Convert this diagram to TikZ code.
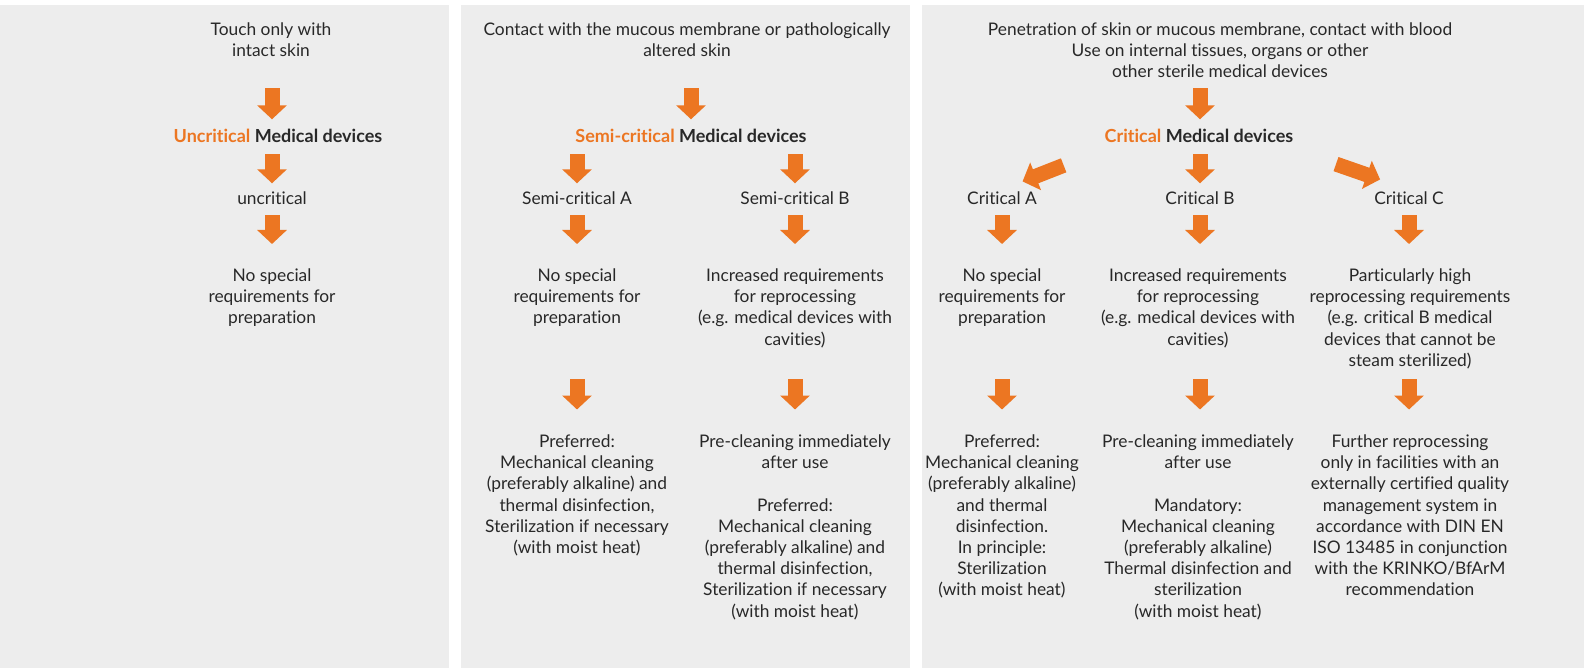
\documentclass[tikz,border=0pt]{standalone}
\usepackage{fontspec}
\setmainfont{Lato}[Ligatures=NoCommon]
\usetikzlibrary{arrows.meta}
\definecolor{orng}{RGB}{236,118,34}
\definecolor{panel}{RGB}{237,237,237}
\definecolor{ink}{RGB}{40,40,40}
\tikzset{
  txt/.style={anchor=north, align=center, inner sep=0pt, text=ink,
    font=\fontsize{17.35}{21.2}\selectfont,
    execute at begin node=\strut, execute at end node=\strut},
  ttl/.style={txt, font=\fontsize{18}{21.2}\selectfont\bfseries},
  blk/.style={draw=orng, line width=15pt, -{Triangle[length=14pt,width=29pt]}},
}
\begin{document}
\begin{tikzpicture}[x=1pt, y=-1pt]
			%%%%% PANELS %%%%%
			\useasboundingbox (0,0) rectangle (1584,668);
			\fill[white] (0,0) rectangle (1584,668);
			\fill[panel] (0,5) rectangle (449,668);
			\fill[panel] (461,5) rectangle (910,668);
			\fill[panel] (922,5) rectangle (1584,668);
			
			%%%%% UNCRITICAL %%%%%
			\node[txt] (skin) at (271,22.5) {Touch only with\\intact skin};
			\node[ttl] (unc) at (278,127.5) {\textcolor{orng}{Uncritical} Medical devices};
			\node[txt] (unclvl) at (272,189.2) {uncritical};
			\node[txt] (uncreq) at (272,268.5) {No special\\requirements for\\preparation};
			
			\draw[blk, shorten <=25.1pt, shorten >=8.2pt] (skin.south -| unclvl.north) -- (unc.north -| unclvl.north);
			\draw[blk, shorten <=5.3pt, shorten >=5.9pt] (unc.south -| unclvl.north) -- (unclvl.north);
			\draw[blk, shorten <=4.6pt, shorten >=24.5pt] (unclvl.south) -- (uncreq.north);
			
			%%%%% SEMI-CRITICAL %%%%%
			\node[txt] (mucous) at (687,22.5) {Contact with the mucous membrane or pathologically\\altered skin};
			\node[ttl] (semi) at (691,127.7) {\textcolor{orng}{Semi-critical} Medical devices};
			\node[txt] (semiA) at (577,189.5) {Semi-critical A};
			\node[txt] (semiB) at (795,189.5) {Semi-critical B};
			\node[txt] (semiAreq) at (577,268.5) {No special\\requirements for\\preparation};
			\node[txt] (semiBreq) at (795,268.5) {Increased requirements\\for reprocessing\\(e.g. medical devices with\\cavities)};
			\node[txt] (semiAproc) at (577,434.5) {Preferred:\\Mechanical cleaning\\(preferably alkaline) and\\thermal disinfection,\\Sterilization if necessary\\(with moist heat)};
			\node[txt] (semiBproc) at (795,434.5) {Pre-cleaning immediately\\after use\\[21.2pt]Preferred:\\Mechanical cleaning\\(preferably alkaline) and\\thermal disinfection,\\Sterilization if necessary\\(with moist heat)};
			
			\draw[blk, shorten <=25.1pt, shorten >=8.4pt] (mucous.south -| semi.north) -- (semi.north);
			\draw[blk, shorten <=5.1pt, shorten >=6.2pt] (semi.south -| semiA.north) -- (semiA.north);
			\draw[blk, shorten <=5.1pt, shorten >=6.2pt] (semi.south -| semiB.north) -- (semiB.north);
			\draw[blk, shorten <=4.3pt, shorten >=24.5pt] (semiA.south) -- (semiAreq.north);
			\draw[blk, shorten <=4.3pt, shorten >=24.5pt] (semiB.south) -- (semiBreq.north);
			\draw[blk, shorten <=48.9pt, shorten >=25pt] (semiAreq.south) -- (semiAproc.north);
			\draw[blk, shorten <=27.7pt, shorten >=25pt] (semiBreq.south) -- (semiBproc.north);
			
			%%%%% CRITICAL %%%%%
			\node[txt] (blood) at (1220,22.5) {Penetration of skin or mucous membrane, contact with blood\\Use on internal tissues, organs or other\\other sterile medical devices};
			\node[ttl] (crit) at (1199,127.7) {\textcolor{orng}{Critical} Medical devices};
			\node[txt] (critA) at (1002,189.5) {Critical A};
			\node[txt] (critB) at (1200,189.5) {Critical B};
			\node[txt] (critC) at (1409,189.5) {Critical C};
			\node[txt] (critAreq) at (1002,268.5) {No special\\requirements for\\preparation};
			\node[txt] (critBreq) at (1198,268.5) {Increased requirements\\for reprocessing\\(e.g. medical devices with\\cavities)};
			\node[txt] (critCreq) at (1410,268.5) {Particularly high\\reprocessing requirements\\(e.g. critical B medical\\devices that cannot be\\steam sterilized)};
			\node[txt] (critAproc) at (1002,434.5) {Preferred:\\Mechanical cleaning\\(preferably alkaline)\\and thermal\\disinfection.\\In principle:\\Sterilization\\(with moist heat)};
			\node[txt] (critBproc) at (1198,434.5) {Pre-cleaning immediately\\after use\\[21.2pt]Mandatory:\\Mechanical cleaning\\(preferably alkaline)\\Thermal disinfection and\\sterilization\\(with moist heat)};
			\node[txt] (critCproc) at (1410,434.5) {Further reprocessing\\only in facilities with an\\externally certified quality\\management system in\\accordance with DIN EN\\ISO 13485 in conjunction\\with the KRINKO/BfArM\\recommendation};
			
			\draw[blk, shorten <=3.9pt, shorten >=8.4pt] (blood.south -| critB.north) -- (crit.north -| critB.north);
			\draw[blk, shorten <=43.9pt, shorten >=22.1pt] (crit.south west) -- (critA.north);
			\draw[blk, shorten <=5.1pt, shorten >=6.2pt] (crit.south -| critB.north) -- (critB.north);
			\draw[blk, shorten <=45pt, shorten >=30.6pt] (crit.south east) -- (critC.north);
			\draw[blk, shorten <=4.3pt, shorten >=24.5pt] (critA.south) -- (critAreq.north);
			\draw[blk, shorten <=4.3pt, shorten >=24.5pt] (critB.south) -- (critBreq.north -| critB.south);
			\draw[blk, shorten <=4.3pt, shorten >=24.5pt] (critC.south) -- (critCreq.north -| critC.south);
			\draw[blk, shorten <=48.9pt, shorten >=25pt] (critAreq.south) -- (critAproc.north);
			\draw[blk, shorten <=27.7pt, shorten >=25pt] (critBreq.south -| critB.south) -- (critBproc.north -| critB.south);
			\draw[blk, shorten <=6.5pt, shorten >=25pt] (critCreq.south -| critC.south) -- (critCproc.north -| critC.south);
			
			%%%%% END %%%%%
\end{tikzpicture}
\end{document}
